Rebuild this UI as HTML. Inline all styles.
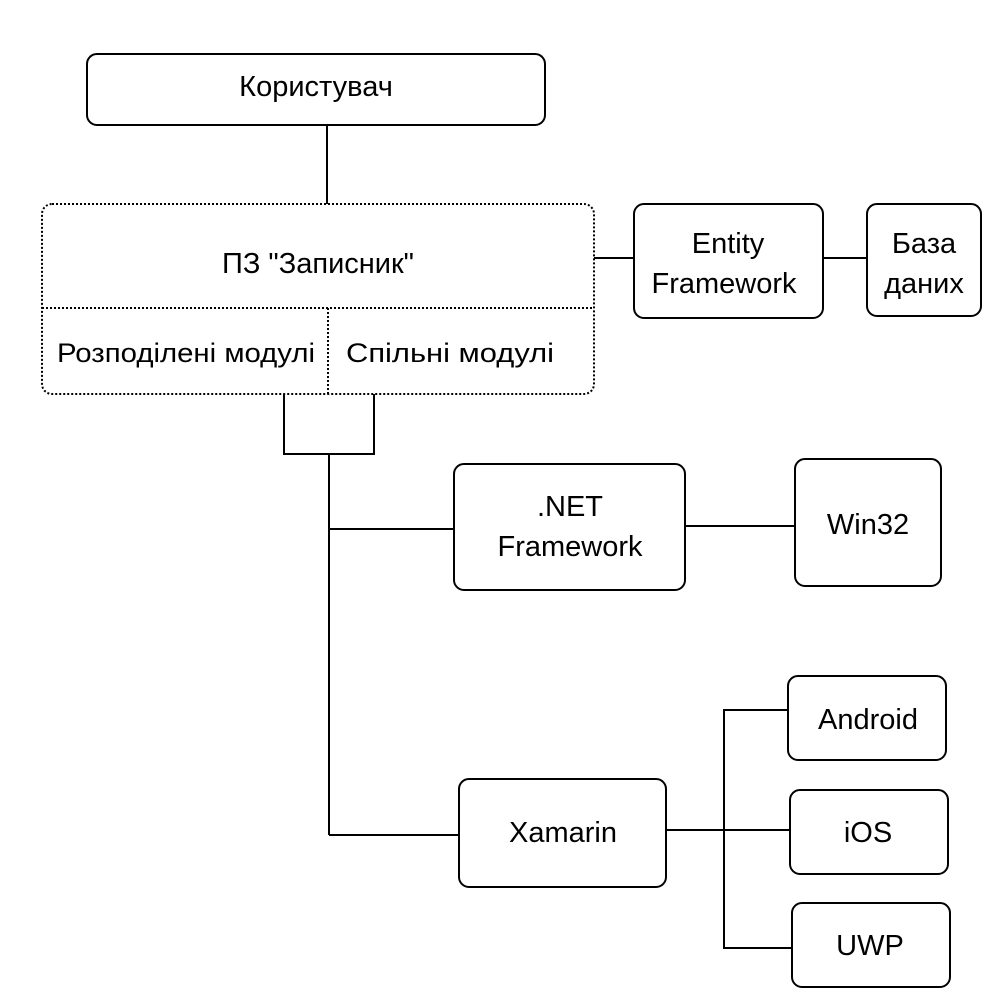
<!DOCTYPE html>
<html><head><meta charset="utf-8"><style>
body{margin:0;background:#fff;}
svg text{font-family:"Liberation Sans",sans-serif;font-size:29px;fill:#000;text-anchor:middle;dominant-baseline:central;}
</style></head><body>
<svg width="1000" height="1000" xmlns="http://www.w3.org/2000/svg">
<g fill="none" stroke="#000" stroke-width="2">
<rect x="87" y="54" width="458" height="71" rx="10"/>
<line x1="327" y1="125" x2="327" y2="204"/>
<rect x="42" y="204" width="552" height="190" rx="10" stroke-dasharray="2,2"/>
<line x1="42" y1="308" x2="594" y2="308" stroke-dasharray="2,2"/>
<line x1="328" y1="308" x2="328" y2="394" stroke-dasharray="2,2"/>
<line x1="594" y1="258" x2="634" y2="258"/>
<rect x="634" y="204" width="189" height="114" rx="10"/>
<line x1="823" y1="258" x2="867" y2="258"/>
<rect x="867" y="204" width="114" height="112" rx="10"/>
<polyline points="284,394 284,454 374,454 374,394"/>
<line x1="329" y1="454" x2="329" y2="835"/>
<line x1="329" y1="529" x2="454" y2="529"/>
<line x1="329" y1="835" x2="459" y2="835"/>
<rect x="454" y="464" width="231" height="126" rx="10"/>
<line x1="685" y1="526" x2="795" y2="526"/>
<rect x="795" y="459" width="146" height="127" rx="10"/>
<rect x="459" y="779" width="207" height="108" rx="10"/>
<line x1="666" y1="830" x2="790" y2="830"/>
<polyline points="788,710 724,710 724,948 792,948"/>
<rect x="788" y="676" width="158" height="84" rx="10"/>
<rect x="790" y="790" width="158" height="84" rx="10"/>
<rect x="792" y="903" width="158" height="84" rx="10"/>
</g>
<text x="316" y="87">Користувач</text>
<text x="318" y="264">ПЗ "Записник"</text>
<text x="186" y="353" style="font-size:27px" textLength="258" lengthAdjust="spacingAndGlyphs">Розподілені модулі</text>
<text x="450" y="353" style="font-size:27px" textLength="208" lengthAdjust="spacingAndGlyphs">Спільні модулі</text>
<text x="728" y="244">Entity</text>
<text x="724" y="284">Framework</text>
<text x="924" y="244">База</text>
<text x="924" y="284">даних</text>
<text x="570" y="507">.NET</text>
<text x="570" y="547">Framework</text>
<text x="868" y="525">Win32</text>
<text x="563" y="833">Xamarin</text>
<text x="868" y="720">Android</text>
<text x="868" y="833">iOS</text>
<text x="870" y="946">UWP</text>
</svg>
</body></html>
